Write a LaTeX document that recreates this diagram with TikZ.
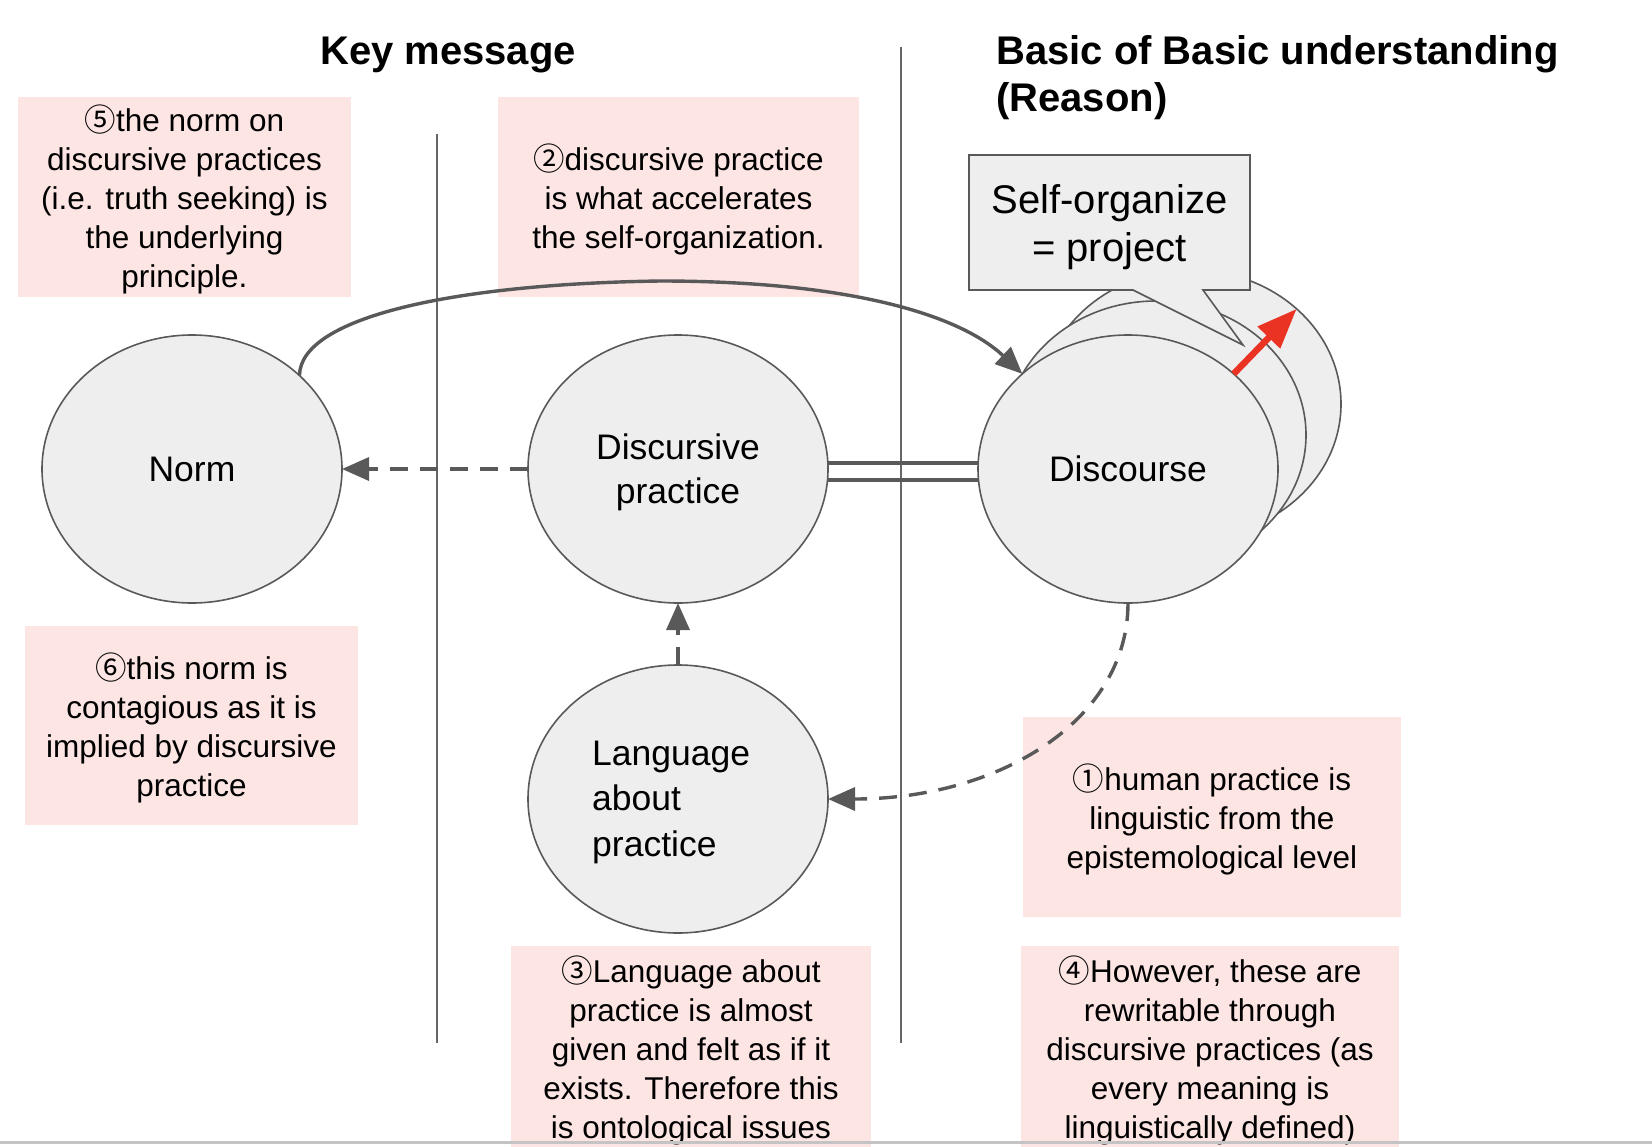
\documentclass[tikz,border=0pt]{standalone}
\usepackage{fontspec}
\setmainfont{Liberation Sans}
\newfontfamily\cjk{Noto Sans CJK JP}
\usetikzlibrary{shapes.geometric,arrows.meta}
\definecolor{linegray}{HTML}{595959}
\definecolor{bubfill}{HTML}{EEEEEE}
\definecolor{pinkfill}{HTML}{FCE5E3}
\definecolor{redarrow}{HTML}{EA3323}
\definecolor{divgray}{HTML}{666666}
\definecolor{bottomgray}{HTML}{C4C4C4}
\newcommand{\cn}[1]{{\cjk #1}}
\begin{document}
\begin{tikzpicture}[x=1pt,y=-1pt,
  bub/.style={ellipse, draw=linegray, fill=bubfill, line width=1.6pt, minimum width=300pt, minimum height=268pt, inner sep=0pt, outer sep=0pt},
  lbl/.style={font=\fontsize{35.5}{44}\selectfont, align=center},
  pink/.style={fill=pinkfill, inner sep=0pt, align=center, font=\fontsize{31.5}{39}\selectfont},
  pinktext/.style={inner sep=0pt, align=center, font=\fontsize{31.5}{39}\selectfont},
  title/.style={font=\fontsize{40}{47}\selectfont\bfseries, inner sep=0pt},
  conn/.style={draw=linegray, line width=3.4pt, -{Triangle[length=27pt,width=23pt]}},
  dashy/.style={dash pattern=on 18pt off 12pt},
  divider/.style={draw=divgray, line width=1.6pt},
  dbl/.style={draw=linegray, line width=3.3pt},
  redarr/.style={draw=redarrow, line width=6.5pt, -{Triangle[length=40pt,width=30pt]}},
]
\useasboundingbox (0,0) rectangle (1652,1146);
\fill[white] (0,0) rectangle (1652,1146);

% pink notes (boxes, then their texts)
\node[pink, minimum width=333pt, minimum height=200pt] (n5) at (184.5,197) {};
\node[pinktext] (n5t) at (184.5,199) {\cn{⑤}the norm on\\discursive practices\\(i.e. truth seeking) is\\the underlying\\principle.};
\node[pink, minimum width=361pt, minimum height=200pt] (n2) at (678.5,197) {};
\node[pinktext] (n2t) at (678.5,199) {\cn{②}discursive practice\\is what accelerates\\the self-organization.};
\node[pink, minimum width=333pt, minimum height=199pt] (n6) at (191.5,725.5) {};
\node[pinktext] (n6t) at (191.5,727.5) {\cn{⑥}this norm is\\contagious as it is\\implied by discursive\\practice};
\node[pink, minimum width=378pt, minimum height=200pt] (n1) at (1212,817) {};
\node[pinktext] (n1t) at (1212,819) {\cn{①}human practice is\\linguistic from the\\epistemological level};
\node[pink, minimum width=360pt, minimum height=204pt] (n3) at (691,1048) {};
\node[pinktext] (n3t) at (691,1050) {\cn{③}Language about\\practice is almost\\given and felt as if it\\exists. Therefore this\\is ontological issues};
\node[pink, minimum width=378pt, minimum height=204pt] (n4) at (1210,1048) {};
\node[pinktext] (n4t) at (1210,1050) {\cn{④}However, these are\\rewritable through\\discursive practices (as\\every meaning is\\linguistically defined)};

% dividers
\draw[divider] (437,134) -- (437,1043);
\draw[divider] (901,47) -- (901,1043);

% titles
\node[title, anchor=base] (t1) at (448,64) {Key message};
\node[title, anchor=base west] (t2) at (996,64) {Basic of Basic understanding};
\node[title, anchor=base west] (t3) at (996,111) {(Reason)};

% bubbles
\node[bub] (back3) at (1191,404) {};
\node[bub] (back2) at (1156,435) {};
\node[bub, lbl] (disc) at (1128,469) {Discourse};
\node[bub, lbl] (norm) at (192,469) {Norm};
\node[bub] (dp) at (678,469) {};
\node[lbl, inner sep=0pt] (dptext) at (678,472) {Discursive\\practice};
\node[bub] (lap) at (678,799) {};
\node[font=\fontsize{35.5}{45.5}\selectfont, align=left, anchor=west, inner sep=0pt] (laptext) at (592,802) {Language\\about\\practice};

% callout
\draw[draw=linegray, fill=bubfill, line width=1.6pt] (969,155) -- (1250,155) -- (1250,290) -- (1203,290) -- (1243,345) -- (1133,290) -- (969,290) -- cycle;
\node[font=\fontsize{40}{48}\selectfont, align=center] (callout) at (1109.5,227) {Self-organize\\= project};

% connectors
\draw[conn] (norm.41) .. controls (300,318) and (450,284) .. (660,281) .. controls (850,281) and (960,315) .. (disc.138);
\draw[conn, dashy] (dp.west) -- (norm.east);
\draw[conn, dashy] (lap.north) -- (dp.south);
\draw[conn, dashy] (disc.south) .. controls (1128,720) and (1000,799) .. (lap.east);
\draw[dbl] ([yshift=6pt]dp.east) -- ([yshift=6pt]disc.west);
\draw[dbl] ([yshift=-11pt]dp.east) -- ([yshift=-11pt]disc.west);
\draw[redarr] (disc.42) -- (back3.42);

% bottom edge
\draw[bottomgray, line width=3pt] (0,1142) -- (1652,1142);
\end{tikzpicture}
\end{document}
